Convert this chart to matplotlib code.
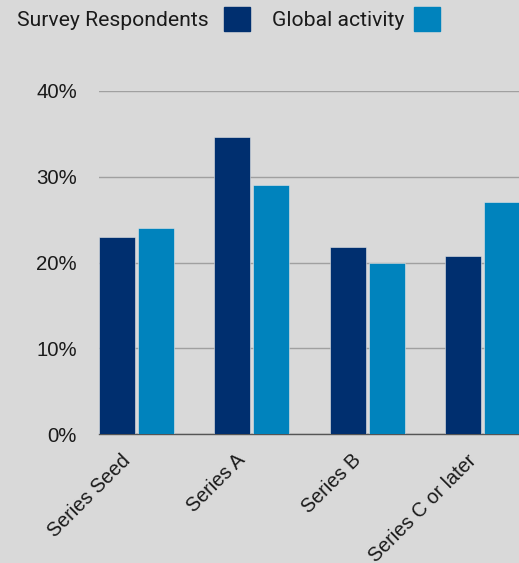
import numpy as np
import matplotlib.pyplot as plt
import matplotlib.transforms as mtransforms
from matplotlib.patches import Rectangle

# stage data (share of deals, %)
stages = ["Series Seed", "Series A", "Series B", "Series C or later"]
respondents = [23.0, 34.6, 21.8, 20.8]
global_activity = [24.0, 29.0, 20.0, 27.0]
yticks = [0, 10, 20, 30, 40]

dark = "#002f6f"
light = "#0083bd"
bg = "#d9d9d9"

fig = plt.figure(figsize=(5.19, 5.63), dpi=100, facecolor=bg)
ax = fig.add_axes([99 / 519, 129 / 563, 420 / 519, 343 / 563], facecolor=bg)

x = np.arange(len(stages))
w = 0.312
off = 0.169
ax.bar(x - off, respondents, w, color=dark, edgecolor="#e6e6e6", linewidth=0.4, zorder=3)
ax.bar(x + off, global_activity, w, color=light, edgecolor="#e6e6e6", linewidth=0.4, zorder=3)

ax.set_xlim(-0.325, 3.315)
ax.set_ylim(0, 40)
ax.set_yticks(yticks)
ax.set_yticklabels([f"{t}%" for t in yticks], fontsize=14.7, color="#1a1a1a",
                   family="Liberation Sans")
ax.tick_params(axis="y", length=0, pad=16)
ax.grid(axis="y", color="#a0a0a0", linewidth=1, zorder=0)
ax.set_xticks(x)
ax.set_xticklabels(stages, rotation=45, ha="right", va="top", rotation_mode="anchor",
                   fontsize=14.2, color="#1a1a1a", family="Liberation Sans")
ax.tick_params(axis="x", length=0, pad=12)
shift = mtransforms.ScaledTranslation(-16 / 100, 0, fig.dpi_scale_trans)
for lab in ax.get_xticklabels():
    lab.set_transform(lab.get_transform() + shift)
for s in ["top", "right", "left"]:
    ax.spines[s].set_visible(False)
ax.spines["bottom"].set_color("#555555")
ax.spines["bottom"].set_linewidth(1)

# legend along the top: label first, swatch after
fig.text(17 / 519, 1 - 20 / 563, "Survey Respondents", fontsize=15.2, family="Roboto",
         color="#1a1a1a", va="center", ha="left")
fig.patches.append(Rectangle((224 / 519, 1 - 31 / 563), 26 / 519, 24 / 563,
                             transform=fig.transFigure, color=dark))
fig.text(272 / 519, 1 - 20 / 563, "Global activity", fontsize=15.2, family="Roboto",
         color="#1a1a1a", va="center", ha="left")
fig.patches.append(Rectangle((414 / 519, 1 - 31 / 563), 26 / 519, 24 / 563,
                             transform=fig.transFigure, color=light))

fig.savefig("out.png", dpi=100, facecolor=bg)
